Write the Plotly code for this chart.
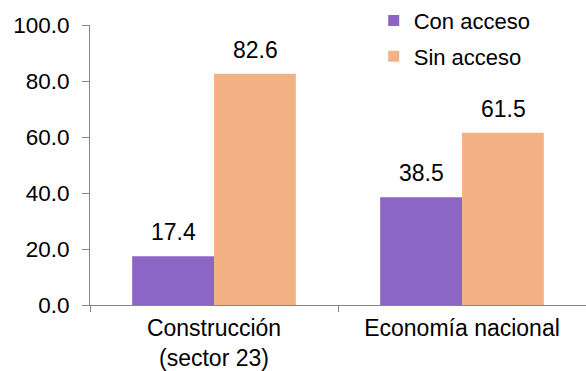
import plotly.graph_objects as go

categories = ["Construcción<br>(sector 23)", "Economía nacional"]
con_acceso = [17.4, 38.5]
sin_acceso = [82.6, 61.5]
series_names = ["Con acceso", "Sin acceso"]
y_ticks = [0, 20, 40, 60, 80, 100]
y_tick_labels = ["0.0", "20.0", "40.0", "60.0", "80.0", "100.0"]

purple = "#8B66C6"
orange = "#F4B183"
font = "Liberation Sans, Arial, sans-serif"

fig = go.Figure()
for name, vals, col in ((series_names[0], con_acceso, purple), (series_names[1], sin_acceso, orange)):
    fig.add_trace(go.Bar(name=name, x=categories, y=vals, marker_color=col,
                         marker_line_width=0, showlegend=False))
# legend entries with small square symbols
for name, col in ((series_names[0], purple), (series_names[1], orange)):
    fig.add_trace(go.Scatter(name=name, x=[None], y=[None], mode="markers",
                             marker=dict(symbol="square", size=11, color=col),
                             legendgroup=name, showlegend=True))

# value labels above bars
for i, cat in enumerate(categories):
    for val, shift in ((con_acceso[i], -41), (sin_acceso[i], 41)):
        fig.add_annotation(x=cat, y=val, text=f"{val:.1f}", showarrow=False,
                           xshift=shift, yshift=9, yanchor="bottom",
                           font=dict(family=font, size=23, color="#000000"))

fig.update_layout(
    width=586, height=371,
    margin=dict(l=90, r=0, t=25, b=66, autoexpand=False),
    paper_bgcolor="white", plot_bgcolor="white",
    barmode="group", bargap=0.34, bargroupgap=0,
    font=dict(family=font, size=22, color="#000000"),
    legend=dict(x=0.572, y=1.09, xanchor="left", yanchor="top",
                font=dict(family=font, size=22), traceorder="grouped",
                tracegroupgap=4, itemwidth=30, bgcolor="rgba(0,0,0,0)"),
    showlegend=True,
)
fig.update_xaxes(showline=True, linecolor="#868686", linewidth=1,
                 ticks="outside", tickson="boundaries", ticklen=6, tickcolor="#868686",
                 showgrid=False, tickfont=dict(family=font, size=23), automargin=False,
                 ticklabelstandoff=2)
fig.update_yaxes(range=[0, 100], tickvals=y_ticks, ticktext=y_tick_labels,
                 showline=True, linecolor="#868686", linewidth=1,
                 ticks="outside", ticklen=7, tickcolor="#868686",
                 showgrid=False, zeroline=False, tickfont=dict(family=font, size=22.5),
                 automargin=False, ticklabelstandoff=8)

fig.write_html("out.html", config={"displayModeBar": False},
               post_script="document.body.style.margin='0';document.body.style.overflow='hidden';")
